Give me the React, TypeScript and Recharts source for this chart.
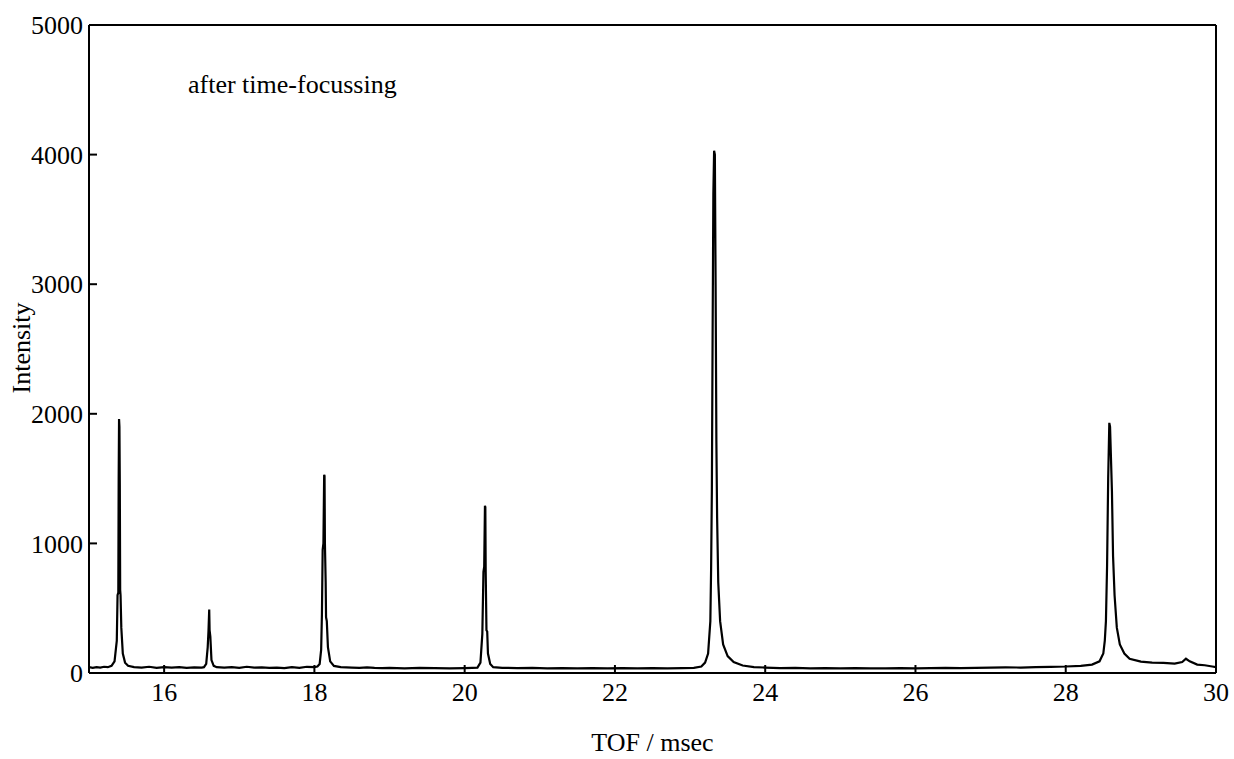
import { LineChart, Line, XAxis, YAxis, ReferenceLine } from "recharts";

// TOF values (msec) and intensities
const tof = [
  15.0, 15.05, 15.1, 15.15, 15.2, 15.25, 15.3, 15.34, 15.37, 15.38, 15.39, 15.395, 15.4, 15.405, 15.41, 15.415,
  15.42, 15.43, 15.45, 15.48, 15.52, 15.6, 15.7, 15.8, 15.9, 16.0, 16.1, 16.2, 16.3, 16.4, 16.5, 16.53, 16.56,
  16.58, 16.59, 16.6, 16.605, 16.615, 16.63, 16.66, 16.7, 16.8, 16.9, 17.0, 17.1, 17.2, 17.3, 17.4, 17.5, 17.6,
  17.7, 17.8, 17.9, 18.0, 18.04, 18.07, 18.09, 18.1, 18.11, 18.12, 18.13, 18.135, 18.14, 18.15, 18.155, 18.165,
  18.18, 18.21, 18.26, 18.35, 18.5, 18.6, 18.7, 18.8, 18.9, 19.0, 19.2, 19.4, 19.6, 19.8, 20.0, 20.1, 20.17,
  20.21, 20.235, 20.25, 20.26, 20.27, 20.275, 20.28, 20.29, 20.3, 20.31, 20.34, 20.38, 20.5, 20.7, 20.9, 21.1,
  21.3, 21.5, 21.7, 21.9, 22.1, 22.3, 22.5, 22.7, 22.9, 23.05, 23.15, 23.2, 23.24, 23.27, 23.28, 23.29, 23.3,
  23.31, 23.32, 23.33, 23.34, 23.35, 23.36, 23.375, 23.4, 23.44, 23.5, 23.58, 23.7, 23.85, 24.0, 24.2, 24.4,
  24.6, 24.8, 25.0, 25.2, 25.4, 25.6, 25.8, 26.0, 26.2, 26.4, 26.6, 26.8, 27.0, 27.2, 27.4, 27.6, 27.8, 28.0,
  28.2, 28.35, 28.45, 28.5, 28.52, 28.535, 28.55, 28.565, 28.58, 28.59, 28.6, 28.615, 28.63, 28.65, 28.68, 28.72,
  28.78, 28.85, 29.0, 29.15, 29.3, 29.45, 29.55, 29.6, 29.65, 29.75, 29.85, 29.95, 30.0,
];
const intensity = [
  45, 40, 45, 42, 48, 45, 55, 90, 250, 600, 620, 1500, 1960, 1900, 1450, 640,
  600, 350, 150, 80, 55, 45, 42, 48, 40, 45, 42, 46, 40, 44, 42, 45, 70,
  200, 320, 490, 330, 280, 100, 55, 45, 42, 45, 40, 48, 42, 44, 40, 42, 38,
  45, 40, 48, 45, 50, 70, 180, 450, 950, 1000, 1530, 1520, 1000, 700, 430, 400,
  200, 90, 55, 45, 42, 40, 44, 40, 38, 40, 36, 40, 38, 36, 38, 40, 42,
  80, 300, 780, 820, 1290, 1280, 780, 330, 320, 150, 70, 45, 40, 38, 40, 36,
  38, 36, 38, 35, 38, 36, 38, 36, 38, 40, 50, 80, 150, 400, 800, 1400, 2600,
  3700, 4030, 4000, 3000, 1800, 1200, 700, 400, 220, 130, 85, 58, 45, 42, 38, 40,
  36, 38, 36, 38, 35, 36, 38, 36, 38, 40, 38, 40, 42, 44, 42, 45, 48, 50,
  55, 65, 90, 150, 250, 400, 820, 1500, 1930, 1900, 1700, 1400, 900, 600, 350, 220,
  150, 110, 88, 80, 78, 72, 85, 110, 90, 65, 60, 50, 45,
];

const xTicks = [16, 18, 20, 22, 24, 26, 28, 30];
const yTicks = [0, 1000, 2000, 3000, 4000, 5000];

const data = tof.map((t, i) => ({ tof: t, value: intensity[i] }));

const serif = "'Liberation Serif', 'Times New Roman', serif";

export default function App() {
  return (
    <div style={{ position: "absolute", left: 0, top: 0, width: 1234, height: 759, background: "#fff", fontFamily: serif }}>
      <LineChart width={1234} height={759} data={data} margin={{ top: 25, right: 18, bottom: 56, left: 0 }}>
        <XAxis
          dataKey="tof"
          type="number"
          domain={[15, 30]}
          ticks={xTicks}
          allowDataOverflow
          height={30}
          tickSize={-8}
          tickMargin={18}
          stroke="#000"
          strokeWidth={2}
          tick={{ fill: "#000", fontSize: 26, fontFamily: serif }}
          label={{ value: "TOF / msec", position: "bottom", offset: 30, fill: "#000", fontSize: 26, fontFamily: serif }}
        />
        <YAxis
          type="number"
          domain={[0, 5000]}
          ticks={yTicks}
          width={89}
          tickSize={-8}
          tickMargin={14}
          stroke="#000"
          strokeWidth={2}
          tick={{ fill: "#000", fontSize: 26, fontFamily: serif }}
        />
        <ReferenceLine y={5000} stroke="#000" strokeWidth={2} />
        <ReferenceLine x={30} stroke="#000" strokeWidth={2} />
        <Line
          type="linear"
          dataKey="value"
          stroke="#000"
          strokeWidth={2.2}
          dot={false}
          isAnimationActive={false}
        />
      </LineChart>
      <div style={{ position: "absolute", left: 188, top: 70, fontSize: 26, color: "#000", whiteSpace: "nowrap" }}>
        after time-focussing
      </div>
      <div
        style={{
          position: "absolute",
          left: 22,
          top: 348,
          fontSize: 26,
          color: "#000",
          whiteSpace: "nowrap",
          transform: "translate(-50%, -50%) rotate(-90deg)",
        }}
      >
        Intensity
      </div>
    </div>
  );
}
